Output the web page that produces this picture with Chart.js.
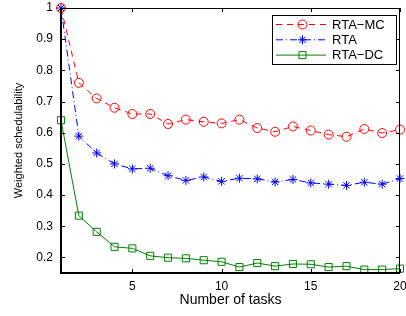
<!DOCTYPE html>
<html>
<head>
<meta charset="utf-8">
<script src="https://cdn.jsdelivr.net/npm/chart.js@4/dist/chart.umd.min.js"></script>
<style>
  html, body { margin: 0; padding: 0; background: #fff; }
  #wrap { width: 406px; height: 316px; }
</style>
</head>
<body>
<div id="wrap"><canvas id="chart" width="406" height="316"></canvas></div>
<script>
// --- data ---
const tasks = [1, 2, 3, 4, 5, 6, 7, 8, 9, 10, 11, 12, 13, 14, 15, 16, 17, 18, 19, 20];
const rtaMC = [1.0, 0.76, 0.71, 0.68, 0.66, 0.66, 0.628, 0.642, 0.635, 0.63, 0.642, 0.615, 0.603, 0.62, 0.607, 0.594, 0.587, 0.612, 0.599, 0.61];
const rta = [1.0, 0.589, 0.535, 0.50, 0.484, 0.486, 0.462, 0.447, 0.458, 0.444, 0.454, 0.452, 0.442, 0.45, 0.439, 0.435, 0.431, 0.441, 0.435, 0.453];
const rtaDC = [0.64, 0.334, 0.282, 0.234, 0.229, 0.205, 0.199, 0.197, 0.191, 0.186, 0.169, 0.182, 0.172, 0.179, 0.178, 0.169, 0.172, 0.161, 0.161, 0.164];
const xTicks = [5, 10, 15, 20];
const yTicks = [0.2, 0.3, 0.4, 0.5, 0.6, 0.7, 0.8, 0.9, 1.0];
const seriesNames = ["RTA\u2212MC", "RTA", "RTA\u2212DC"];

const FONT = "'Liberation Sans', Arial, sans-serif";

function pts(ys) {
  return tasks.map((x, i) => ({ x: x, y: ys[i] }));
}

// --- frame with inward ticks on all 4 sides (matlab style) ---
const framePlugin = {
  id: "frame",
  afterDatasetsDraw(chart) {
    const { ctx, chartArea: a, scales } = chart;
    const len = 4;
    ctx.save();
    ctx.strokeStyle = "#000";
    // top + right thin
    ctx.lineWidth = 1;
    ctx.beginPath();
    ctx.moveTo(a.left, a.top + 0.5);
    ctx.lineTo(a.right, a.top + 0.5);
    ctx.moveTo(a.right - 0.5, a.top);
    ctx.lineTo(a.right - 0.5, a.bottom);
    xTicks.forEach((v) => {
      const px = Math.round(scales.x.getPixelForValue(v)) + 0.5;
      ctx.moveTo(px, a.bottom);
      ctx.lineTo(px, a.bottom - len);
      ctx.moveTo(px, a.top);
      ctx.lineTo(px, a.top + len);
    });
    yTicks.forEach((v) => {
      const py = Math.round(scales.y.getPixelForValue(v)) + 0.5;
      ctx.moveTo(a.left, py);
      ctx.lineTo(a.left + len, py);
      ctx.moveTo(a.right, py);
      ctx.lineTo(a.right - len, py);
    });
    ctx.stroke();
    // left + bottom thick
    ctx.lineWidth = 2;
    ctx.beginPath();
    ctx.moveTo(a.left, a.top);
    ctx.lineTo(a.left, a.bottom);
    ctx.lineTo(a.right, a.bottom);
    ctx.stroke();
    ctx.restore();
  },
};

// --- legend box drawn inside the axes, top right ---
const boxLegend = {
  id: "boxLegend",
  afterDraw(chart) {
    const { ctx } = chart;
    const bx = 272, by = 15, bw = 124, bh = 49;
    ctx.save();
    ctx.fillStyle = "#fff";
    ctx.fillRect(bx, by, bw, bh);
    ctx.strokeStyle = "#000";
    ctx.lineWidth = 1;
    ctx.strokeRect(bx + 0.5, by + 0.5, bw, bh);
    chart.data.datasets.forEach((ds, i) => {
      const y = by + 9.5 + i * 15.3;
      ctx.strokeStyle = ds.borderColor;
      ctx.lineWidth = 1;
      ctx.setLineDash(ds.borderDash || []);
      ctx.beginPath();
      ctx.moveTo(276, y);
      ctx.lineTo(326, y);
      ctx.stroke();
      ctx.setLineDash([]);
      ctx.strokeStyle = ds.pointBorderColor;
      ctx.fillStyle = "rgba(0,0,0,0)";
      Chart.helpers.drawPoint(ctx, {
        pointStyle: ds.pointStyle,
        radius: ds.pointRadius,
        rotation: 0,
        borderWidth: 1,
      }, 302.5, y);
      ctx.fillStyle = "#000";
      ctx.font = "13px " + FONT;
      ctx.textBaseline = "middle";
      ctx.textAlign = "left";
      ctx.fillText(ds.label, 332, y + 0.5);
    });
    ctx.restore();
  },
};

new Chart(document.getElementById("chart"), {
  type: "line",
  data: {
    datasets: [
      {
        label: seriesNames[0],
        data: pts(rtaMC),
        borderColor: "#ff0000",
        pointBorderColor: "#ff0000",
        borderDash: [6, 5],
        pointStyle: "circle",
        pointRadius: 4.5,
      },
      {
        label: seriesNames[1],
        data: pts(rta),
        borderColor: "#0000ff",
        pointBorderColor: "#0000ff",
        borderDash: [7, 3, 1, 3],
        pointStyle: "star",
        pointRadius: 4.5,
      },
      {
        label: seriesNames[2],
        data: pts(rtaDC),
        borderColor: "#008000",
        pointBorderColor: "#008000",
        borderDash: [],
        pointStyle: "rect",
        pointRadius: 5,
      },
    ].map((d) => ({
      ...d,
      borderWidth: 1,
      pointBorderWidth: 1,
      pointBackgroundColor: "rgba(0,0,0,0)",
      tension: 0,
      clip: false,
    })),
  },
  options: {
    responsive: false,
    animation: false,
    layout: { padding: { left: 0, top: 8, right: 4, bottom: 0 } },
    plugins: { legend: { display: false }, tooltip: { enabled: false } },
    scales: {
      x: {
        type: "linear",
        min: 1,
        max: 20,
        grid: { display: false, drawTicks: false },
        border: { display: false },
        afterBuildTicks: (s) => { s.ticks = xTicks.map((v) => ({ value: v })); },
        afterFit: (s) => { s.height = 43; s.paddingLeft = 0; s.paddingRight = 0; },
        ticks: { color: "#000", padding: 6, maxRotation: 0, font: { family: FONT, size: 12 } },
        title: {
          display: true,
          text: "Number of tasks",
          color: "#000",
          font: { family: FONT, size: 14 },
          padding: { top: 0, bottom: 7 },
        },
      },
      y: {
        min: 0.15,
        max: 1,
        grid: { display: false, drawTicks: false },
        border: { display: false },
        afterBuildTicks: (s) => { s.ticks = yTicks.map((v) => ({ value: v })); },
        afterFit: (s) => { s.width = 61; s.paddingTop = 0; s.paddingBottom = 0; },
        ticks: {
          color: "#000",
          padding: 8,
          font: { family: FONT, size: 12 },
          callback: (v) => (v === 1 ? "1" : v.toFixed(1)),
        },
        title: {
          display: true,
          text: "Weighted schedulability",
          color: "#000",
          font: { family: FONT, size: 11 },
          padding: { top: 12, bottom: 0 },
        },
      },
    },
  },
  plugins: [framePlugin, boxLegend],
});
</script>
</body>
</html>
